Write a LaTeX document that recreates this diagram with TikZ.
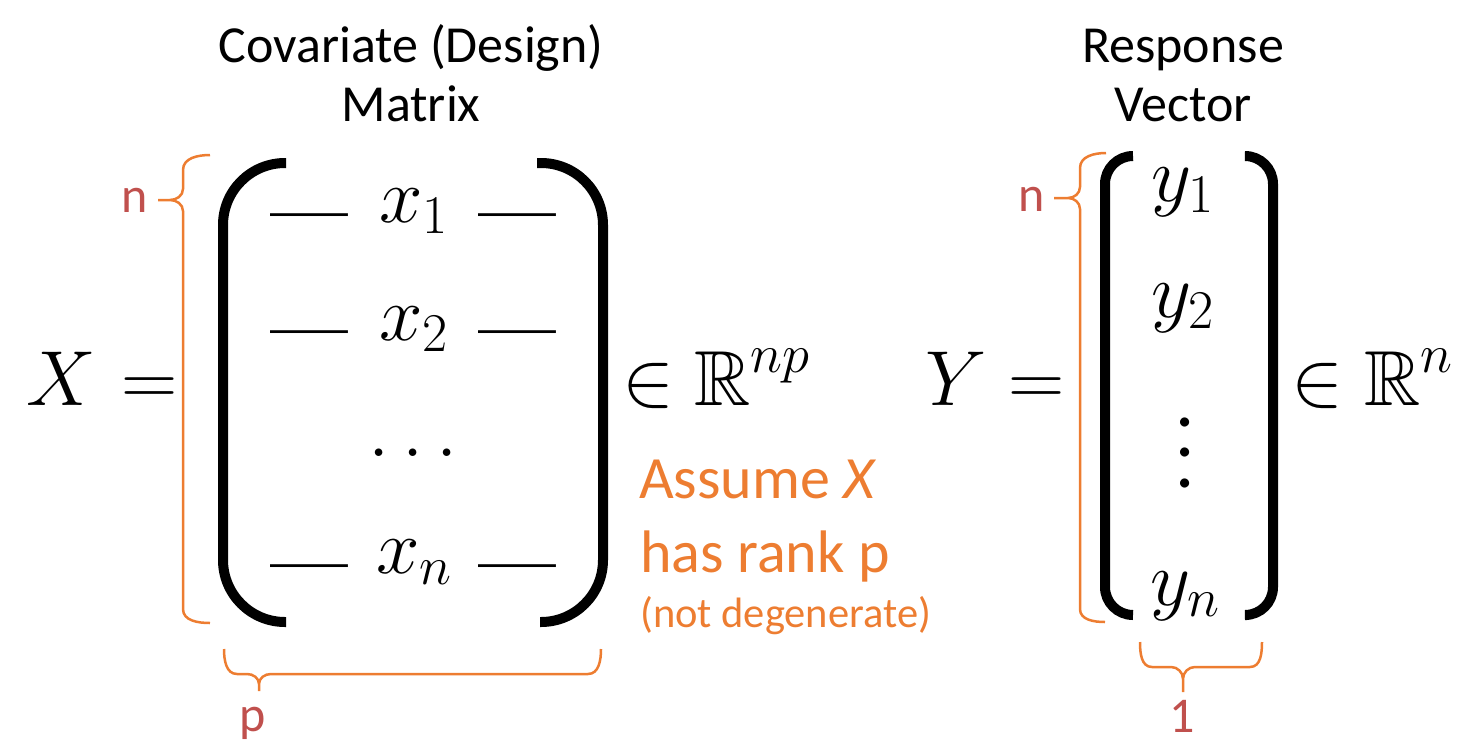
\RequirePackage{fix-cm}
\documentclass[tikz,border=0pt]{standalone}
\usepackage{graphicx}
\usepackage{amssymb}
\usepackage[no-math]{fontspec}
\setmainfont{Carlito}
\definecolor{orng}{HTML}{ED7D31}
\definecolor{lblred}{HTML}{C0504D}
\tikzset{
  mth/.style={font=\fontsize{78}{80}\selectfont, inner sep=0pt, anchor=base},
  emd/.style={font=\fontsize{78}{80}\fontfamily{lmr}\bfseries\selectfont, inner sep=0pt, anchor=base},
  ttl/.style={font=\fontsize{52}{57}\selectfont, inner sep=0pt, anchor=base},
  lbl/.style={text=lblred, font=\fontsize{50}{55}\selectfont, inner sep=0pt, anchor=base},
  note/.style={text=orng, font=\fontsize{60}{66}\selectfont, inner sep=0pt, anchor=base west},
  brkt/.style={line width=10pt, line cap=butt},
  brc/.style={draw=orng, line width=2.5pt}
}
\begin{document}
\begin{tikzpicture}[x=1pt, y=-1pt]
\useasboundingbox (0,0) rectangle (1457,753);

% titles
\node[ttl] (t1) at (411,62) {Covariate (Design)};
\node[ttl] (t2) at (411,121) {Matrix};
\node[ttl] (t3) at (1183,62) {Response};
\node[ttl] (t4) at (1183,121) {Vector};

% X equation
\node[mth] (X) at (61,405) {$X$};
\node[mth] (eq1) at (150,405) {$=$};
\node[mth] (in1) at (648,405) {$\in$};
\node[mth, anchor=base west] (R1) at (694,405) {$\displaystyle\mathbb{R}^{np}$};

% matrix brackets
\draw[brkt, rounded corners=62pt] (286,163) -- (223,163) -- (223,622) -- (286,622);
\draw[brkt, rounded corners=62pt] (537,163) -- (603,163) -- (603,622) -- (540,622);

% matrix rows
\node[emd] (d1l) at (309,236) {—};
\node[mth] (x1) at (414,222) {$x_1$};
\node[emd] (d1r) at (517,236) {—};
\node[emd] (d2l) at (309,353) {—};
\node[mth] (x2) at (414,340) {$x_2$};
\node[emd] (d2r) at (517,353) {—};
\node[mth] (hd) at (413,456) {$\ldots$};
\node[emd] (dnl) at (309,587) {—};
\node[mth] (xn) at (414,573) {$x_n$};
\node[emd] (dnr) at (517,587) {—};

% left brace n
\draw[brc] (210,155) to[out=180,in=90] (183,170) -- (183,189) to[out=-90,in=0] (170,200) -- (158,200)
  (170,200) to[out=0,in=90] (183,211) -- (183,609) to[out=-90,in=180] (210,623);
\node[lbl] (nX) at (135,212) {n};

% bottom brace p
\draw[brc] (224,649) to[out=-90,in=180] (237,674) -- (247,674) to[out=0,in=90] (259,684) -- (259,691)
  (259,684) to[out=90,in=180] (271,674) -- (588,674) to[out=0,in=-90] (601,649);
\node[lbl] (pX) at (253,731) {p};

% note
\node[note] (a1) at (639,498) {Assume \textit{X}};
\node[note] (a2) at (640,572) {has rank p};
\node[note, font=\fontsize{42.5}{48}\selectfont] (a3) at (640,627) {(not degenerate)};

% Y equation
\node[mth] (Y) at (956,405) {$Y$};
\node[mth] (eq2) at (1037,405) {$=$};
\node[mth] (in2) at (1317,405) {$\in$};
\node[mth, anchor=base west] (R2) at (1364,405) {$\displaystyle\mathbb{R}^{n}$};

\draw[brkt, rounded corners=28pt] (1133,156) -- (1105,156) -- (1105,615) -- (1133,615);
\draw[brkt, rounded corners=28pt] (1247,156) -- (1273,156) -- (1273,615) -- (1247,615);

\node[mth] (y1) at (1183,201) {$y_1$};
\node[mth] (y2) at (1183,317) {$y_2$};
\node[inner sep=0pt, anchor=south] (vd) at (1185,488) {\scalebox{7.6}{$\vdots$}};
\node[mth] (yn) at (1185,605) {$y_n$};

\draw[brc] (1106,153) to[out=180,in=90] (1080,168) -- (1080,187) to[out=-90,in=0] (1068,198) -- (1054,198)
  (1068,198) to[out=0,in=90] (1080,209) -- (1080,609) to[out=-90,in=180] (1105,622);
\node[lbl] (nY) at (1032,211) {n};

\draw[brc] (1140,642) to[out=-90,in=180] (1152,667) -- (1171,667) to[out=0,in=90] (1183,679) -- (1183,692)
  (1183,679) to[out=90,in=180] (1195,667) -- (1250,667) to[out=0,in=-90] (1262,642);
\node[lbl] (oneY) at (1182,732) {1};
\end{tikzpicture}
\end{document}
